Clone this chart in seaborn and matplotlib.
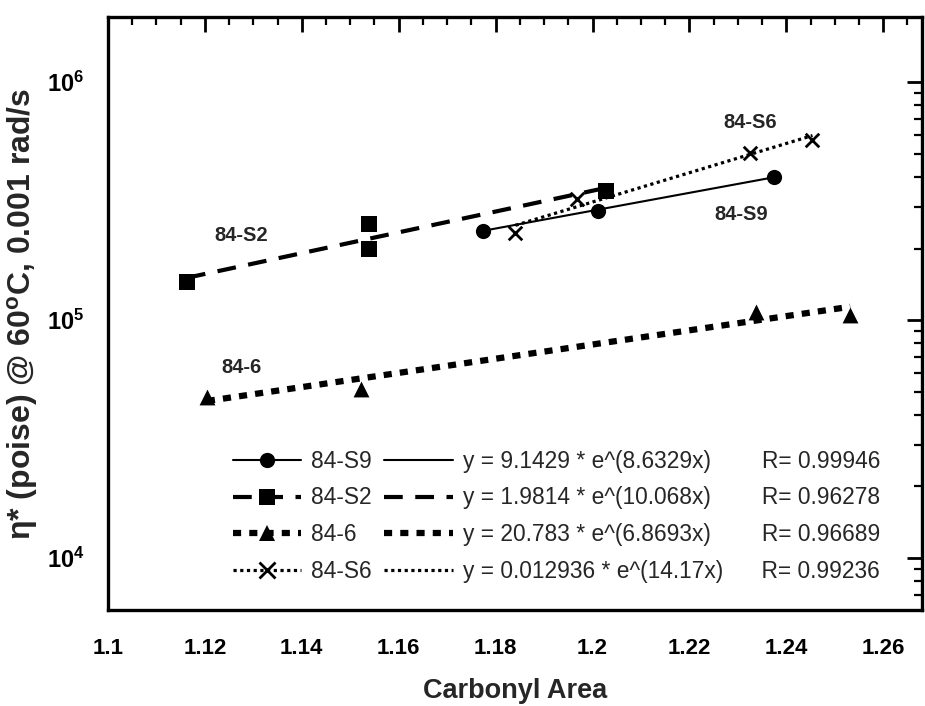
import numpy as np
import pandas as pd
import matplotlib
matplotlib.use("Agg")
import matplotlib.pyplot as plt
from matplotlib.lines import Line2D
from matplotlib.ticker import LogLocator, MultipleLocator, FuncFormatter, NullFormatter
import seaborn as sns

# Complex viscosity vs. carbonyl area for four binders
s9_x = [1.1773, 1.2012, 1.2375]
s9_y = [2.37e5, 2.87e5, 3.99e5]
s2_x = [1.1163, 1.1538, 1.1538, 1.2027]
s2_y = [1.44e5, 2.53e5, 1.99e5, 3.48e5]
b6_x = [1.1204, 1.1522, 1.2338, 1.2532]
b6_y = [4.74e4, 5.13e4, 1.08e5, 1.05e5]
s6_x = [1.1841, 1.1967, 1.2326, 1.2454]
s6_y = [2.32e5, 3.22e5, 5.03e5, 5.70e5]

series_names = ["84-S9", "84-S2", "84-6", "84-S6"]
series_x = [s9_x, s2_x, b6_x, s6_x]
series_y = [s9_y, s2_y, b6_y, s6_y]

# exponential fits y = a * e^(b x)
fit_a_text = ["9.1429", "1.9814", "20.783", "0.012936"]
fit_b_text = ["8.6329", "10.068", "6.8693", "14.17"]
fit_r_text = ["0.99946", "0.96278", "0.96689", "0.99236"]
fit_gap = [8, 8, 8, 6]

x_tick_step = 0.02

sns.set_theme(style="white")
plt.rcParams["font.family"] = ["Liberation Sans", "DejaVu Sans"]
plt.rcParams["mathtext.fontset"] = "custom"
plt.rcParams["mathtext.rm"] = "Liberation Sans"
plt.rcParams["mathtext.bf"] = "Liberation Sans:bold"
plt.rcParams["mathtext.it"] = "Liberation Sans:italic"

fig = plt.figure(figsize=(9.25, 7.06), dpi=100)
ax = fig.add_axes([108 / 925, 1 - 610 / 706, 814 / 925, 593 / 706])
ax.set_yscale("log")

markers = ["o", "s", "^", "x"]
marker_sizes = [120, 120, 130, 95]
line_widths = [1.5, 3.0, 4.5, 2.3]
line_styles = ["-", (0, (4.5, 3.0)), (0, (1.3, 1.3)), (0, (1.0, 1.1))]

for name, xs, ys, mk, ms in zip(series_names, series_x, series_y, markers, marker_sizes):
    df = pd.DataFrame({"Carbonyl Area": xs, "eta": ys})
    kw = dict(linewidth=2.0) if mk == "x" else dict(linewidth=0)
    sns.scatterplot(data=df, x="Carbonyl Area", y="eta", marker=mk, s=ms,
                    color="black", ax=ax, legend=False, zorder=3, **kw)

for xs, a, b, lw, ls in zip(series_x, fit_a_text, fit_b_text, line_widths, line_styles):
    gx = np.linspace(min(xs), max(xs), 60)
    gy = float(a) * np.exp(float(b) * gx)
    sns.lineplot(x=gx, y=gy, color="black", linewidth=lw, ax=ax, legend=False)
    ax.lines[-1].set_linestyle(ls)

ax.set_xlim(1.1, 1.268)
ax.set_ylim(6.05e3, 1.88e6)

ax.xaxis.set_major_locator(MultipleLocator(x_tick_step))
ax.xaxis.set_minor_locator(MultipleLocator(x_tick_step / 4))
ax.xaxis.set_major_formatter(FuncFormatter(lambda v, p: f"{v:g}"))
ax.yaxis.set_major_locator(LogLocator(base=10))
ax.yaxis.set_minor_locator(LogLocator(base=10, subs=np.arange(2, 10)))
ax.yaxis.set_major_formatter(FuncFormatter(lambda v, p: r"$\mathbf{10^{%d}}$" % round(np.log10(v))))
ax.yaxis.set_minor_formatter(NullFormatter())

ax.tick_params(which="both", direction="in", top=True, right=True, colors="black")
ax.tick_params(which="major", length=11, width=2.0, labelsize=16)
ax.tick_params(axis="x", which="major", pad=20)
ax.tick_params(axis="y", which="major", pad=17, labelsize=17)
ax.tick_params(which="minor", length=6, width=1.6)
for lab in ax.get_xticklabels():
    lab.set_fontweight("bold")
for sp in ax.spines.values():
    sp.set_color("black")
    sp.set_linewidth(2.4)

ax.set_xlabel("Carbonyl Area", fontsize=19.5, fontweight="bold", labelpad=14)
ax.set_ylabel(r"η* (poise) @ 60$^{\mathbf{o}}$C, 0.001 rad/s", fontsize=23,
              fontweight="bold")
ax.yaxis.set_label_coords(-0.083, 0.5)

annot = {"84-S2": (1.1274, 2.27e5), "84-6": (1.1276, 6.3e4),
         "84-S6": (1.2326, 6.78e5), "84-S9": (1.2307, 2.79e5)}
for txt, (tx, ty) in annot.items():
    ax.text(tx, ty, txt, fontsize=14.5, fontweight="bold", ha="center", va="center")

series_handles = []
fit_handles = []
fit_labels = []
for mk, lw, ls, a, b, r, g in zip(markers, line_widths, line_styles, fit_a_text,
                                  fit_b_text, fit_r_text, fit_gap):
    mew = 2.0 if mk == "x" else 0
    series_handles.append(Line2D([], [], color="black", lw=lw, ls=ls, marker=mk,
                                 markersize=11, markeredgewidth=mew))
    fit_handles.append(Line2D([], [], color="black", lw=lw, ls=ls))
    fit_labels.append(f"y = {a} * e^({b}x)" + " " * g + f"R= {r}")

leg = ax.legend(series_handles + fit_handles, series_names + fit_labels, ncol=2,
                loc="center", bbox_to_anchor=(0.551, 0.158), frameon=False,
                fontsize=16.4, handlelength=3.0, handletextpad=0.45,
                columnspacing=0.55, labelspacing=0.6, numpoints=1)

fig.savefig("out.png", dpi=100)
